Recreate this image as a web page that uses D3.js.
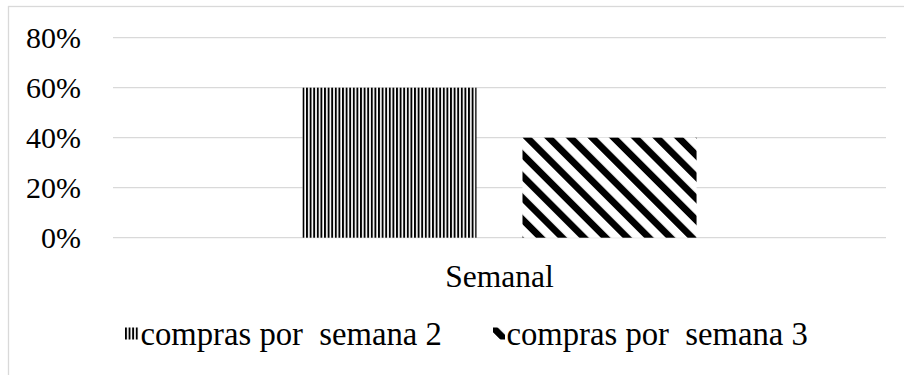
<!DOCTYPE html>
<html>
<head>
<meta charset="utf-8">
<script src="https://cdn.jsdelivr.net/npm/d3@7"></script>
<style>
  html, body { margin: 0; padding: 0; background: #fff; }
  svg { display: block; }
  text { font-family: "Liberation Serif", "Times New Roman", serif; fill: #000; }
</style>
</head>
<body>
<svg id="chart" width="904" height="375"></svg>
<script>
// Weekly purchase shares
const categories = ["Semanal"];
const seriesNames = ["compras por  semana 2", "compras por  semana 3"];
const seriesValues = [[0.60], [0.40]];
const tickValues = [0, 0.2, 0.4, 0.6, 0.8];

const W = 904, H = 375;
const plotLeft = 113, plotRight = 886, plotTop = 37.7, plotBottom = 237.7;
const svg = d3.select("#chart");
const defs = svg.append("defs");

// fill patterns anchored to a shape's top-left corner
let patternCount = 0;
function stripeFill(kind, ox, oy, shift) {
  const id = "pat" + (patternCount++);
  if (kind === 0) {
    // fine vertical stripes
    const p = defs.append("pattern").attr("id", id)
      .attr("patternUnits", "userSpaceOnUse").attr("width", 3.6).attr("height", 10)
      .attr("patternTransform", `translate(${ox},${oy})`);
    p.append("rect").attr("width", 3.6).attr("height", 10).attr("fill", "#fff");
    p.append("rect").attr("width", 1.9).attr("height", 10).attr("fill", "#000");
  } else {
    // wide diagonal stripes
    const p = defs.append("pattern").attr("id", id)
      .attr("patternUnits", "userSpaceOnUse").attr("width", 15.3).attr("height", 20)
      .attr("patternTransform", `translate(${ox},${oy}) rotate(-45) translate(${shift},0)`);
    p.append("rect").attr("width", 15.3).attr("height", 20).attr("fill", "#fff");
    p.append("rect").attr("width", 6.8).attr("height", 20).attr("fill", "#000");
  }
  return `url(#${id})`;
}

// outer frame
svg.append("rect")
  .attr("x", 8.5).attr("y", 6.5).attr("width", W).attr("height", H)
  .attr("fill", "none").attr("stroke", "#d9d9d9").attr("stroke-width", 1.3);

const x0 = d3.scaleBand().domain(categories)
  .range([plotLeft, plotRight]).paddingInner(0).paddingOuter(0);
const x1 = d3.scaleBand().domain(d3.range(seriesNames.length))
  .range([0, x0.bandwidth()]).paddingInner(0.209).paddingOuter(0.861);
const y = d3.scaleLinear().domain([0, 0.8]).range([plotBottom, plotTop]);

// gridlines
svg.append("g").selectAll("line").data(tickValues).join("line")
  .attr("x1", plotLeft).attr("x2", plotRight)
  .attr("y1", d => y(d)).attr("y2", d => y(d))
  .attr("stroke", "#d9d9d9").attr("stroke-width", 1.3);

// y axis labels
const yAxis = d3.axisLeft(y).tickValues(tickValues)
  .tickFormat(d3.format(".0%")).tickSize(0).tickPadding(0);
const gy = svg.append("g").attr("transform", "translate(81,0)").call(yAxis);
gy.select(".domain").remove();
gy.selectAll("text")
  .attr("font-family", "Liberation Serif, Times New Roman, serif")
  .attr("font-size", 30).attr("fill", "#000").attr("dy", "0.34em");

// bars
const g = svg.append("g");
categories.forEach((c, ci) => {
  seriesValues.forEach((vals, si) => {
    const bx = x0(c) + x1(si), by = y(vals[ci]);
    g.append("rect")
      .attr("x", bx).attr("width", x1.bandwidth())
      .attr("y", by).attr("height", y(0) - by)
      .attr("fill", stripeFill(si, bx, by, 0));
  });
});

// category label
svg.append("g").selectAll("text").data(categories).join("text")
  .attr("x", d => x0(d) + x0.bandwidth() / 2).attr("y", 287)
  .attr("text-anchor", "middle").attr("font-size", 31.5)
  .text(d => d);

// legend
const legendX = [125, 493];
const lg = svg.append("g");
seriesNames.forEach((name, i) => {
  const mx = legendX[i], my = 327.5;
  lg.append("rect").attr("x", mx).attr("y", my)
    .attr("width", i === 0 ? 13.5 : 12).attr("height", 12)
    .attr("fill", stripeFill(i, mx, my, -3.4));
  lg.append("text").attr("x", mx + (i === 0 ? 15.5 : 13.5)).attr("y", 345)
    .attr("font-size", 32.7).style("white-space", "pre")
    .text(name);
});
</script>
</body>
</html>
